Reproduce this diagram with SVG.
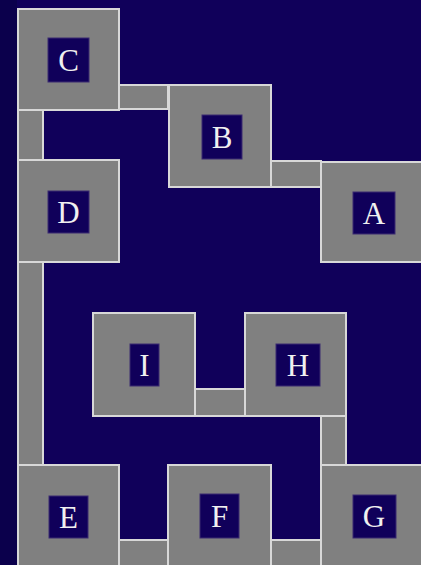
<svg xmlns="http://www.w3.org/2000/svg" width="421" height="565" viewBox="0 0 421 565">
<style>
.n{fill:#808080;stroke:#d8d8d8;stroke-width:2}
.b{fill:#808080;stroke:#d8d8d8;stroke-width:2}
.lb{fill:#10005a;stroke:#3a2a70;stroke-width:1}
.t{font-family:"Liberation Serif","DejaVu Serif",serif;font-size:31px;fill:#f0f0f0;text-anchor:middle;dominant-baseline:central}
</style>
<rect x="0" y="0" width="421" height="565" fill="#10005a"/>
<rect x="0" y="0" width="17" height="565" fill="#0b004c"/>
<g id="connectors">
<rect class="b" x="119" y="85" width="49" height="24"/>
<rect class="b" x="18" y="110" width="25" height="50"/>
<rect class="b" x="271" y="161" width="50" height="26"/>
<rect class="b" x="18" y="262" width="25" height="203"/>
<rect class="b" x="195" y="389" width="50" height="27"/>
<rect class="b" x="321" y="416" width="25" height="49"/>
<rect class="b" x="119" y="540" width="49" height="27"/>
<rect class="b" x="271" y="540" width="50" height="27"/>
</g>
<g id="C"><rect class="n" x="18" y="9" width="101" height="101"/><rect class="lb" x="48" y="38" width="41" height="44"/><text class="t" x="68.5" y="60">C</text></g>
<g id="B"><rect class="n" x="169" y="85" width="102" height="102"/><rect class="lb" x="202" y="115" width="40" height="44"/><text class="t" x="222" y="137">B</text></g>
<g id="D"><rect class="n" x="18" y="160" width="101" height="102"/><rect class="lb" x="48" y="191" width="41" height="42"/><text class="t" x="68.5" y="212">D</text></g>
<g id="A"><rect class="n" x="321" y="162" width="102" height="100"/><rect class="lb" x="353" y="192" width="42" height="42"/><text class="t" x="374" y="213">A</text></g>
<g id="I"><rect class="n" x="93" y="313" width="102" height="103"/><rect class="lb" x="130" y="344" width="29" height="42"/><text class="t" x="144.5" y="365">I</text></g>
<g id="H"><rect class="n" x="245" y="313" width="101" height="103"/><rect class="lb" x="276" y="344" width="44" height="42"/><text class="t" x="298" y="365">H</text></g>
<g id="E"><rect class="n" x="18" y="465" width="101" height="102"/><rect class="lb" x="49" y="496" width="39" height="42"/><text class="t" x="68.5" y="517">E</text></g>
<g id="F"><rect class="n" x="168" y="465" width="103" height="102"/><rect class="lb" x="200" y="494" width="39" height="44"/><text class="t" x="219.5" y="516">F</text></g>
<g id="G"><rect class="n" x="321" y="465" width="102" height="102"/><rect class="lb" x="353" y="495" width="43" height="43"/><text class="t" x="374" y="516">G</text></g>
</svg>
